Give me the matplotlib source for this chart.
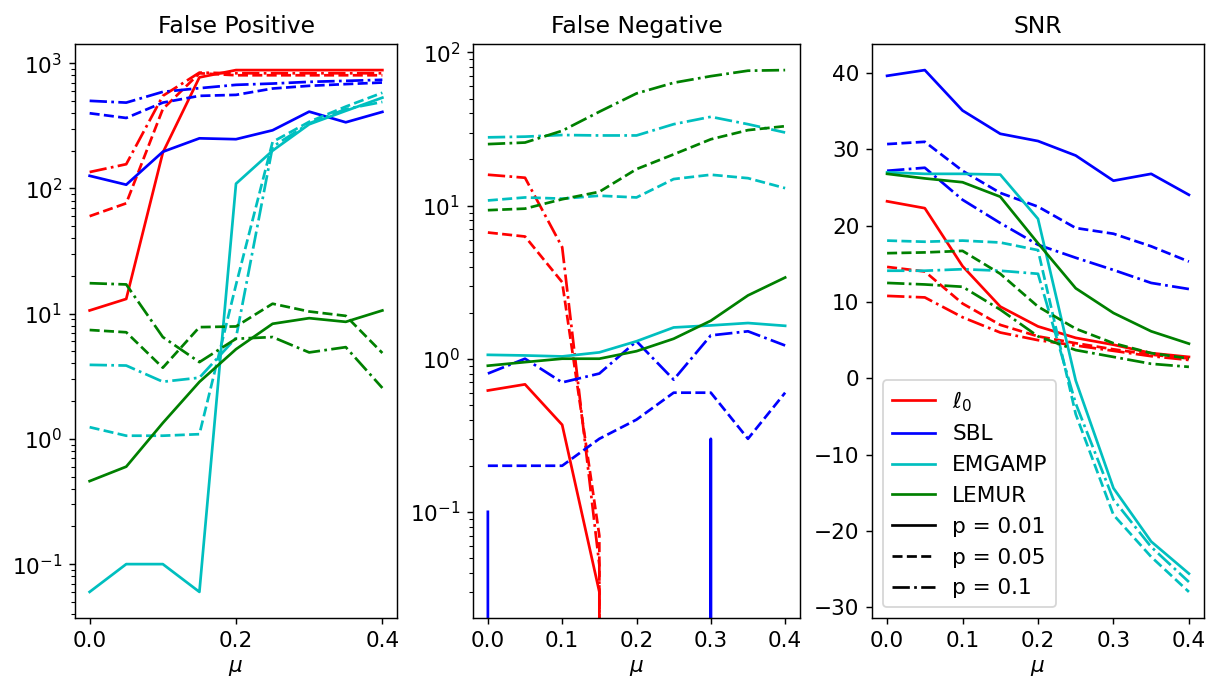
import numpy as np
import matplotlib
matplotlib.use("Agg")
import matplotlib.pyplot as plt
from matplotlib.lines import Line2D

plt.rcParams["font.size"] = 12

mu = [0.0, 0.05, 0.1, 0.15, 0.2, 0.25, 0.3, 0.35, 0.4]
methods = ["$\\ell_0$", "SBL", "EMGAMP", "LEMUR"]
colors = ["r", "b", "c", "g"]
p_labels = ["p = 0.01", "p = 0.05", "p = 0.1"]
styles = ["-", "--", "-."]

# false positives, per method, per p
fp_l0 = [[10.6, 13.1, 193, 770, 880, 880, 880, 880, 880],
         [60, 76, 430, 830, 800, 800, 800, 800, 800],
         [135, 156, 548, 840, 830, 830, 830, 830, 830]]
fp_sbl = [[126, 107, 196, 251, 247, 291, 410, 337, 408],
          [398, 365, 484, 548, 558, 627, 659, 680, 700],
          [500, 484, 590, 631, 671, 687, 709, 722, 736]]
fp_emgamp = [[0.06, 0.1, 0.1, 0.06, 109, 200, 325, 416, 530],
             [1.24, 1.06, 1.06, 1.09, 17, 235, 340, 450, 580],
             [3.9, 3.85, 2.86, 3.08, 6.4, 215, 330, 430, 490]]
fp_lemur = [[0.46, 0.6, 1.34, 2.85, 5.2, 8.3, 9.2, 8.6, 10.6],
            [7.4, 7.1, 3.7, 7.8, 7.9, 12, 10.4, 9.6, 4.85],
            [17.5, 17.1, 6.5, 4.1, 6.3, 6.5, 4.9, 5.4, 2.55]]

# false negatives
fn_l0 = [[0.62, 0.68, 0.37, 0.03, 0, 0, 0, 0, 0],
         [6.67, 6.28, 3.16, 0.07, 0, 0, 0, 0, 0],
         [15.9, 15.2, 5.35, 0.045, 0, 0, 0, 0, 0]]
fn_sbl = [[0.1, 0, 0, 0, 0, 0, 0.3, 0, 0],
          [0.2, 0.2, 0.2, 0.3, 0.4, 0.6, 0.6, 0.3, 0.6],
          [0.8, 1.0, 0.7, 0.8, 1.3, 0.73, 1.42, 1.51, 1.22]]
fn_emgamp = [[1.06, 1.05, 1.035, 1.1, 1.3, 1.6, 1.65, 1.71, 1.64],
             [10.8, 11.3, 11.1, 11.6, 11.3, 14.9, 15.9, 15.1, 13.0],
             [27.9, 28.2, 28.9, 28.7, 28.7, 34, 38, 34, 30]]
fn_lemur = [[0.9, 0.95, 1.0, 1.0, 1.12, 1.35, 1.77, 2.59, 3.39],
            [9.33, 9.55, 11, 12.3, 17.3, 21.6, 27.1, 31.1, 33],
            [25.2, 25.8, 30.8, 41, 54, 63.4, 70, 76, 76.7]]

# snr
snr_l0 = [[23.2, 22.3, 14.7, 9.4, 6.8, 5.3, 4.4, 3.3, 2.8],
          [14.6, 14.0, 9.8, 7.0, 5.5, 4.6, 3.8, 3.1, 2.6],
          [10.8, 10.6, 8.0, 6.0, 5.0, 4.3, 3.6, 2.9, 2.4]]
snr_sbl = [[39.65, 40.4, 35.1, 32.05, 31.1, 29.2, 25.9, 26.8, 24.05],
           [30.7, 31.0, 27.2, 24.3, 22.5, 19.7, 18.95, 17.3, 15.3],
           [27.2, 27.6, 23.4, 20.35, 17.5, 15.8, 14.2, 12.5, 11.7]]
snr_emgamp = [[27.0, 26.8, 26.8, 26.7, 20.9, -0.3, -14.4, -21.4, -25.6],
              [18.05, 17.9, 18.05, 17.8, 16.8, -4.7, -17.9, -23.4, -28.0],
              [14.1, 14.1, 14.3, 14.1, 13.7, -3.3, -15.9, -22.1, -26.7]]
snr_lemur = [[26.8, 26.2, 25.7, 23.8, 17.7, 11.8, 8.56, 6.16, 4.54],
             [16.4, 16.5, 16.7, 13.7, 9.4, 6.5, 4.6, 3.3, 2.6],
             [12.5, 12.3, 12.0, 9.0, 5.5, 3.7, 2.8, 1.9, 1.5]]

panels = [("False Positive", [fp_l0, fp_sbl, fp_emgamp, fp_lemur], True),
          ("False Negative", [fn_l0, fn_sbl, fn_emgamp, fn_lemur], True),
          ("SNR", [snr_l0, snr_sbl, snr_emgamp, snr_lemur], False)]

W, H = 1213, 682
fig = plt.figure(figsize=(W / 130, H / 130), dpi=130)
# axes boxes in pixels: left, right
boxes = [(75, 397), (473, 800), (872, 1204)]
top, bottom = 44, 618
axes = [fig.add_axes([l / W, 1 - bottom / H, (r - l) / W, (bottom - top) / H]) for l, r in boxes]

for ax, (title, data, logy) in zip(axes, panels):
    for m, c in zip(data, colors):
        for vals, ls in zip(m, styles):
            ax.plot(mu, vals, color=c, linestyle=ls)
    if logy:
        ax.set_yscale("log")
    ax.set_title(title, fontsize=13)
    ax.set_xlabel("$\\mu$")

handles = [Line2D([], [], color=c) for c in colors]
handles += [Line2D([], [], color="k", linestyle=ls) for ls in styles]
axes[2].legend(handles, methods + p_labels, loc="lower left")

fig.savefig("out.png", dpi=130)
